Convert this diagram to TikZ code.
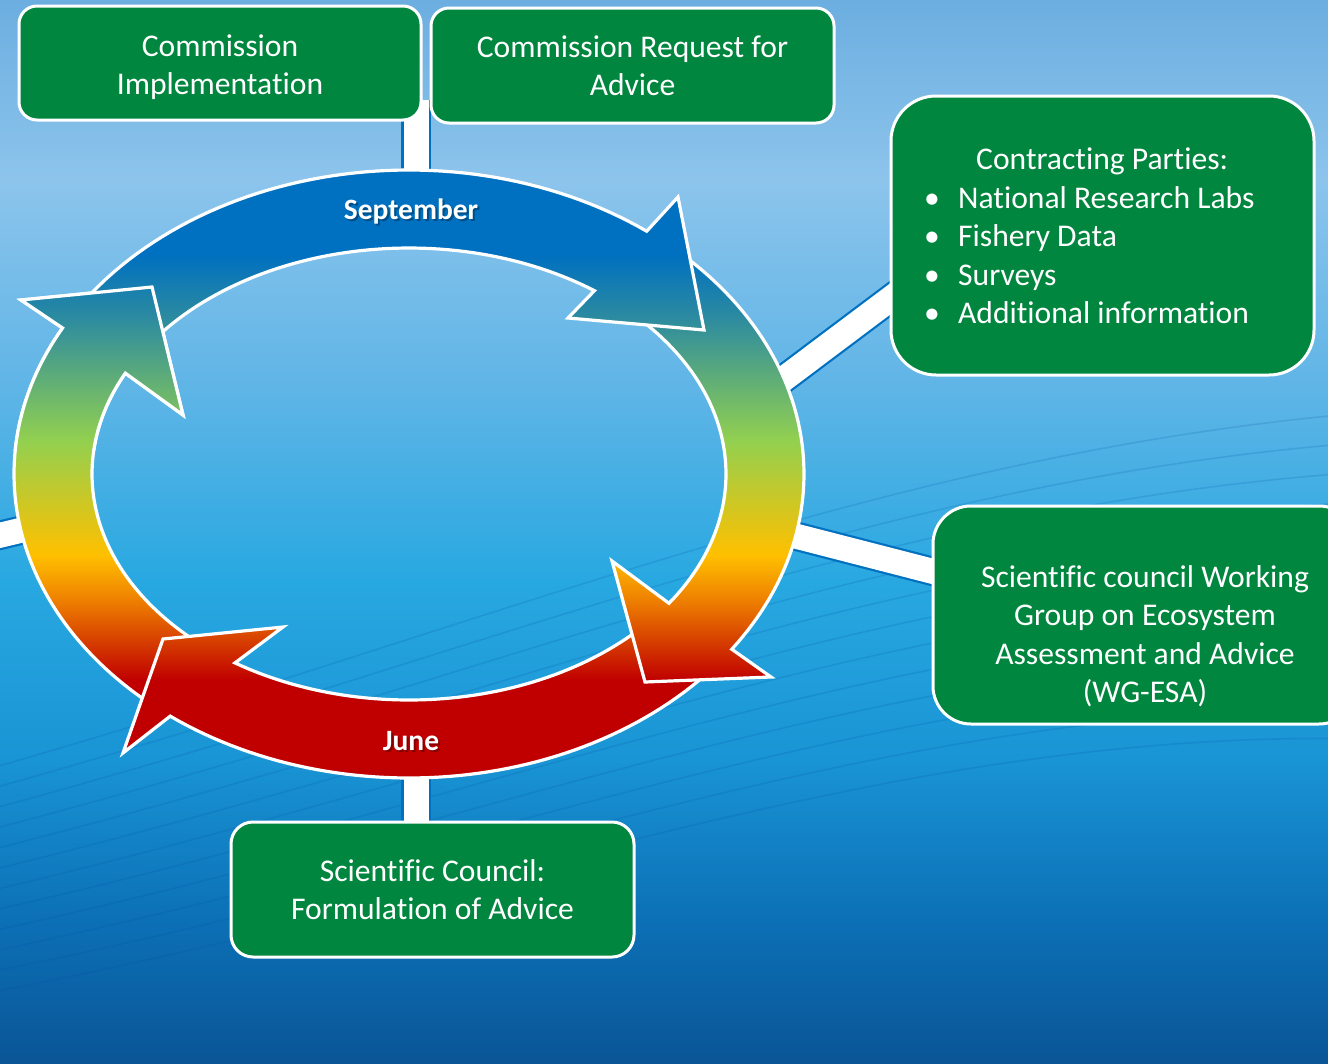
\documentclass[tikz,border=0pt]{standalone}
\usepackage{fontspec}
\setmainfont{Carlito}[Ligatures={NoCommon,NoRequired,NoContextual}]
\usetikzlibrary{calc}

\definecolor{ringblue}{RGB}{0,112,192}
\definecolor{ringteal}{RGB}{46,140,158}
\definecolor{ringgreen}{RGB}{146,208,80}
\definecolor{ringyellow}{RGB}{255,192,0}
\definecolor{ringorange}{RGB}{238,128,0}
\definecolor{ringred}{RGB}{192,0,0}
\definecolor{boxgreen}{RGB}{0,134,62}
\definecolor{connblue}{RGB}{0,112,192}
\definecolor{wavecol}{RGB}{0,80,160}
\definecolor{bga}{RGB}{108,174,224}
\definecolor{bgb}{RGB}{140,196,236}
\definecolor{bgc}{RGB}{92,180,230}
\definecolor{bgd}{RGB}{40,168,225}
\definecolor{bge}{RGB}{25,148,212}
\definecolor{bgf}{RGB}{12,112,182}
\definecolor{bgg}{RGB}{10,85,150}

\pgfdeclareverticalshading{bgshade}{100bp}{color(0bp)=(bgg); color(25bp)=(bgg); color(31.73bp)=(bgf); color(39.25bp)=(bge); color(47.72bp)=(bgd); color(56.19bp)=(bgc); color(66.53bp)=(bgb); color(75bp)=(bga); color(100bp)=(bga)}

\pgfdeclareverticalshading{ringshade}{100bp}{color(0bp)=(ringred); color(33.47bp)=(ringred); color(39.92bp)=(ringorange); color(43.55bp)=(ringyellow); color(52.82bp)=(ringgreen); color(62.5bp)=(ringteal); color(67.74bp)=(ringblue); color(100bp)=(ringblue)}

\newcommand{\ringpath}[6]{plot[domain=#1:#2,samples=60] ({409+395*cos(\x)},{474+304*sin(\x)}) -- #4 -- #5 -- #6 -- plot[domain=#3:#1,samples=60] ({409+317*cos(\x)},{474+226*sin(\x)}) -- cycle}

\newcommand{\cycarrow}[6]{%
  \begin{scope}
    \clip \ringpath{#1}{#2}{#3}{#4}{#5}{#6};
    \shade[shading=ringshade] (10,165) rectangle (810,785);
  \end{scope}
  \draw[ringedge] \ringpath{#1}{#2}{#3}{#4}{#5}{#6};}

\newcommand{\boxfont}{\fontsize{31.6pt}{38.5pt}\selectfont}
\newcommand{\monthfont}{\fontsize{29.5pt}{32pt}\selectfont\bfseries}

\begin{document}
\begin{tikzpicture}[x=1pt,y=-1pt,
  ringedge/.style={draw=white, line width=3.2pt, line join=miter},
  gbox/.style={draw=white, line width=3pt, fill=boxgreen, rounded corners=18pt, inner sep=0pt, text=white, align=center, font=\boxfont},
  txt/.style={text=white, font=\boxfont, inner sep=0pt},
  conn/.style={draw=connblue, line width=2.2pt, double=white, double distance=25pt},
  month/.style={text=white, font=\monthfont, inner sep=0pt},
  waveline/.style={draw=wavecol, line width=1.6pt, opacity=0.16}]

\clip (0,0) rectangle (1328,1063);
\shade[shading=bgshade] (0,0) rectangle (1328,1063);

% faint background waves
\foreach \k in {0,...,11}
  \draw[waveline] (-50,{1000-20*\k}) .. controls (500,{900-25*\k}) and (900,{720-25*\k}) .. (1400,{740-30*\k});

% connector end points
\coordinate (ringN) at (416,200);
\coordinate (topgap) at (416,100);
\coordinate (ringS) at (416,760);
\coordinate (scfin) at (416,850);
\coordinate (ringNE) at (761,396);
\coordinate (cpin) at (930,269);
\coordinate (ringE) at (776,531);
\coordinate (wgin) at (970,581);
\coordinate (ringW) at (60,521);
\coordinate (offW) at (-20,540);

\draw[conn] (ringN) -- (topgap);
\draw[conn] (ringS) -- (scfin);
\draw[conn] (ringNE) -- (cpin);
\draw[conn] (ringE) -- (wgin);
\draw[conn] (ringW) -- (offW);

% cycle arrows (left, bottom, right, top)
\cycarrow{131}{208.7}{206.5}{(21,300)}{(152,287)}{(183,415)}
\cycarrow{40}{127.2}{123.3}{(123,753)}{(163,639)}{(283,627)}
\cycarrow{312}{395.2}{394.9}{(771,677)}{(645,682)}{(612,561)}
\cycarrow{212}{307}{305.8}{(678,197)}{(704,330)}{(568,318)}
\begin{scope}
  \clip (0,150) rectangle (330,450);
  \cycarrow{131}{208.7}{206.5}{(21,300)}{(152,287)}{(183,415)}
\end{scope}

% month labels
\node[month, text=black, opacity=0.3] (sepsh) at (413,213.5) {September};
\node[month] (sep) at (411,211) {September};
\node[month, text=black, opacity=0.3] (junsh) at (413,743.5) {June};
\node[month] (jun) at (411,741) {June};

% boxes
\node[gbox, minimum width=402pt, minimum height=114pt] (ci) at (220,63) {};
\node[txt, align=center] (citxt) at (220,67) {Commission\\Implementation};
\node[gbox, minimum width=403pt, minimum height=115pt] (crq) at (632.5,65.5) {Commission Request for\\Advice};
\node[gbox, minimum width=403pt, minimum height=135pt, rounded corners=22pt] (scf) at (432.5,889.5) {Scientific Council:\\Formulation of Advice};
\node[gbox, minimum width=423pt, minimum height=279pt, rounded corners=45pt] (cp) at (1102.5,235.5) {};
\node[txt, align=left, anchor=west] (cptxt) at (924,236) {\hspace*{52pt}Contracting Parties:\\
  \makebox[34pt][l]{\textbullet}National Research Labs\\
  \makebox[34pt][l]{\textbullet}Fishery Data\\
  \makebox[34pt][l]{\textbullet}Surveys\\
  \makebox[34pt][l]{\textbullet}Additional information};
\node[gbox, minimum width=424pt, minimum height=218pt, rounded corners=38pt] (wg) at (1145,615) {};
\node[txt, align=center] (wgtxt) at (1145,636) {Scientific council Working\\Group on Ecosystem\\Assessment and Advice\\(WG-ESA)};
\end{tikzpicture}
\end{document}
